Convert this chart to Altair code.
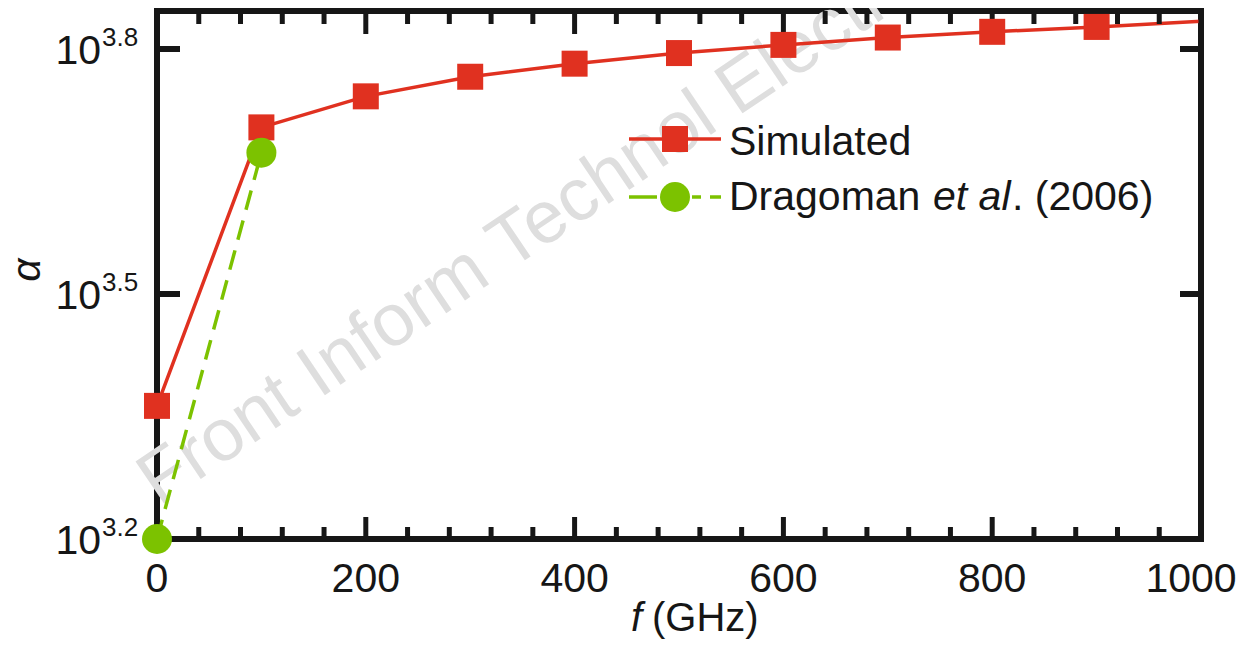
import altair as alt
import pandas as pd

# ---------------- data ----------------
freq_sim = [0, 100, 200, 300, 400, 500, 600, 700, 800, 900, 1000]
alpha_exp_sim = [3.363, 3.704, 3.742, 3.766, 3.782, 3.795, 3.805, 3.814, 3.821, 3.827, 3.834]
marker_shown_sim = [True, True, True, True, True, True, True, True, True, True, False]

freq_drag = [0, 100]
alpha_exp_drag = [3.2, 3.673]

x_major_ticks = [0, 200, 400, 600, 800, 1000]
x_minor_ticks = [40, 80, 120, 160, 240, 280, 320, 360, 440, 480, 520, 560,
                 640, 680, 720, 760, 840, 880, 920, 960]
y_ticks = [3.2, 3.5, 3.8]
y_tick_sup = ["3.2", "3.5", "3.8"]

RED = "#e03120"
GREEN = "#7cc200"
INK = "#161616"
FONT = "Liberation Sans"
W, H = 1044, 528

sim = pd.DataFrame({"f": freq_sim, "a": alpha_exp_sim, "m": marker_shown_sim})
drag = pd.DataFrame({"f": freq_drag, "a": alpha_exp_drag})
xmaj = pd.DataFrame({"f": x_major_ticks, "lab": [str(v) for v in x_major_ticks]})
xmin = pd.DataFrame({"f": x_minor_ticks})
yt = pd.DataFrame({"a": y_ticks, "sup": y_tick_sup})
one = pd.DataFrame({"k": [0]})

xs = alt.Scale(domain=[0, 1000], nice=False, zero=False)
ys = alt.Scale(domain=[3.2, 3.8465], nice=False, zero=False)
X = alt.X("f:Q", scale=xs, axis=None)
Y = alt.Y("a:Q", scale=ys, axis=None)

# watermark
watermark = alt.Chart(one).mark_text(
    angle=326, fontSize=74, font=FONT, color="#dedede", align="left", baseline="alphabetic"
).encode(x=alt.value(2), y=alt.value(496), text=alt.value("Front Inform Technol Electron Eng"))

# data lines and markers
sim_line = alt.Chart(sim).mark_line(color=RED, strokeWidth=3.5).encode(x=X, y=Y)
drag_line = alt.Chart(drag).mark_line(color=GREEN, strokeWidth=3.5, strokeDash=[20, 11]).encode(x=X, y=Y)
sim_pts = alt.Chart(sim).transform_filter("datum.m").mark_point(
    shape="square", filled=True, size=676, color=RED, opacity=1
).encode(x=X, y=Y)
drag_pts = alt.Chart(drag).mark_point(
    shape="circle", filled=True, size=900, color=GREEN, opacity=1
).encode(x=X, y=Y)

# inward ticks
def xtick(df, y0, y1):
    return alt.Chart(df).mark_rule(color=INK, strokeWidth=5).encode(
        x=X, y=alt.value(y0), y2=alt.value(y1))

ticks = [
    xtick(xmaj, H, H - 22), xtick(xmaj, 0, 23),
    xtick(xmin, H, H - 12), xtick(xmin, 0, 13),
    alt.Chart(yt).mark_rule(color=INK, strokeWidth=6).encode(y=Y, x=alt.value(0), x2=alt.value(23)),
    alt.Chart(yt).mark_rule(color=INK, strokeWidth=6).encode(y=Y, x=alt.value(W), x2=alt.value(W - 21)),
]

# tick labels
xlabels = alt.Chart(xmaj).transform_filter("datum.f < 1000").mark_text(
    fontSize=41, font=FONT, color=INK, align="center", baseline="alphabetic"
).encode(x=X, y=alt.value(H + 53), text="lab:N")
xlabel_last = alt.Chart(xmaj).transform_filter("datum.f >= 1000").mark_text(
    fontSize=41, font=FONT, color=INK, align="center", baseline="alphabetic", dx=-10
).encode(x=X, y=alt.value(H + 53), text="lab:N")
ylab10 = alt.Chart(yt).mark_text(
    fontSize=41, font=FONT, color=INK, align="right", baseline="alphabetic", dy=15
).encode(y=Y, x=alt.value(-56), text=alt.value("10"))
ylabsup = alt.Chart(yt).mark_text(
    fontSize=26, font=FONT, color=INK, align="left", baseline="alphabetic", dy=-3
).encode(y=Y, x=alt.value(-55), text="sup:N")

# axis titles
xt_f = alt.Chart(one).mark_text(
    fontSize=40, font=FONT, fontStyle="italic", color=INK, align="left", baseline="alphabetic"
).encode(x=alt.value(474), y=alt.value(620), text=alt.value("f"))
xt_u = alt.Chart(one).mark_text(
    fontSize=40, font=FONT, color=INK, align="left", baseline="alphabetic"
).encode(x=alt.value(495), y=alt.value(620), text=alt.value("(GHz)"))
yt_a = alt.Chart(one).mark_text(
    fontSize=41, font=FONT, fontStyle="italic", color=INK, align="center", baseline="middle", angle=270
).encode(x=alt.value(-129), y=alt.value(259), text=alt.value("α"))

# legend
LY1, LY2 = 128, 186
leg = [
    alt.Chart(one).mark_rule(color=RED, strokeWidth=3.5).encode(
        x=alt.value(472), x2=alt.value(564), y=alt.value(LY1)),
    alt.Chart(one).mark_point(shape="square", filled=True, size=676, color=RED, opacity=1).encode(
        x=alt.value(518), y=alt.value(LY1)),
    alt.Chart(one).mark_text(fontSize=41, font=FONT, color=INK, align="left", baseline="alphabetic").encode(
        x=alt.value(572), y=alt.value(144), text=alt.value("Simulated")),
    alt.Chart(one).mark_rule(color=GREEN, strokeWidth=3.5).encode(
        x=alt.value(472), x2=alt.value(500), y=alt.value(LY2)),
    alt.Chart(one).mark_rule(color=GREEN, strokeWidth=3.5).encode(
        x=alt.value(535), x2=alt.value(544), y=alt.value(LY2)),
    alt.Chart(one).mark_rule(color=GREEN, strokeWidth=3.5).encode(
        x=alt.value(553), x2=alt.value(564), y=alt.value(LY2)),
    alt.Chart(one).mark_point(shape="circle", filled=True, size=900, color=GREEN, opacity=1).encode(
        x=alt.value(518), y=alt.value(LY2)),
    alt.Chart(one).mark_text(fontSize=41, font=FONT, color=INK, align="left", baseline="alphabetic").encode(
        x=alt.value(572), y=alt.value(199), text=alt.value("Dragoman")),
    alt.Chart(one).mark_text(fontSize=41, font=FONT, fontStyle="italic", color=INK, align="left",
                             baseline="alphabetic").encode(
        x=alt.value(776), y=alt.value(199), text=alt.value("et al")),
    alt.Chart(one).mark_text(fontSize=41, font=FONT, color=INK, align="left", baseline="alphabetic").encode(
        x=alt.value(855), y=alt.value(199), text=alt.value(". (2006)")),
]

chart = alt.layer(
    watermark, sim_line, drag_line, *ticks, sim_pts, drag_pts,
    xlabels, xlabel_last, ylab10, ylabsup, xt_f, xt_u, yt_a, *leg
).properties(
    width=W, height=H,
    autosize=alt.AutoSizeParams(type="none"),
    padding={"left": 149, "top": 3, "right": 37, "bottom": 100},
).configure(
    background="white",
    view=alt.ViewConfig(stroke=INK, strokeWidth=6),
)

chart.save("out.html", embed_options={"renderer": "svg", "actions": False})
